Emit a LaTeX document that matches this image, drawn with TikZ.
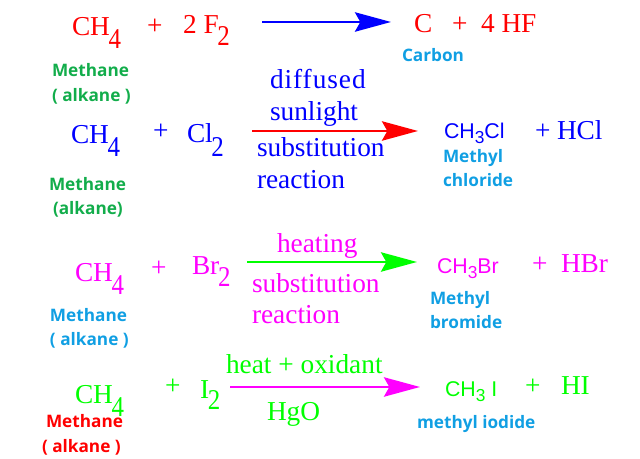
\documentclass[tikz,border=0pt]{standalone}
\usepackage{fontspec}
\setmainfont{Liberation Serif}
\newfontfamily\lblfont{Open Sans}[BoldFont={Open Sans Bold}]
\newfontfamily\formfont{Liberation Sans}
\usetikzlibrary{arrows.meta}
\definecolor{lblgreen}{HTML}{12AD4B}
\definecolor{lblblue}{HTML}{109FE3}
\definecolor{pureRed}{RGB}{255,0,0}
\definecolor{pureBlue}{RGB}{0,0,255}
\definecolor{pureGreen}{RGB}{0,255,0}
\definecolor{pureMagenta}{RGB}{255,0,255}
\newcommand{\bigsub}[2]{\kern-1pt\raisebox{#1pt}{\scalebox{.87}[1]{\fontsize{21.5}{21.5}\selectfont #2}}}
\newcommand{\smsub}[1]{\raisebox{-3.2pt}{\fontsize{13}{13}\selectfont #1}}
\tikzset{
  x=0.75pt,y=-0.75pt,
  every node/.style={inner sep=0pt,outer sep=0pt,anchor=base west},
  chem/.style={yshift=-.75pt,font=\fontsize{20.5}{20.5}\selectfont},
  cond/.style={yshift=-.75pt,font=\fontsize{20.5}{20.5}\selectfont},
  plus/.style={font=\fontsize{20.5}{20.5}\selectfont},
  sans/.style={yshift=-.75pt,font=\formfont\fontsize{16}{16}\selectfont},
  lbl/.style={yshift=-.75pt,font=\lblfont\bfseries\fontsize{12.9}{12.9}\selectfont},
  arr/.style={line width=2pt,-{Stealth[length=27pt,width=14.5pt,inset=4pt]}}
}
\begin{document}
\begin{tikzpicture}
\useasboundingbox (0,0) rectangle (640,459);
% Row 1
\begin{scope}[pureRed]
\node[chem] (ch1) at (72,35) {CH\bigsub{-9.75}{4}};
\node[plus] (p1) at (147,35) {+};
\node[chem] (f2) at (183,33) {2 F\bigsub{-8.8}{2}};
\node[chem] (c) at (414,32) {C};
\node[plus] (p1b) at (452,33) {+};
\node[chem] (hf) at (481,32) {4 HF};
\end{scope}
\coordinate (a1s) at (262,22); \coordinate (a1e) at (391,22);
\draw[arr,pureBlue] (a1s) -- (a1e);
\node[lbl,lblgreen] (m1) at (52,76) {Methane};
\node[lbl,lblgreen] (k1) at (52,101) {( alkane )};
\node[lbl,lblblue] (cb) at (402,61) {Carbon};
% Row 2
\begin{scope}[pureBlue]
\node[chem] (ch2) at (71,143) {CH\bigsub{-9.75}{4}};
\node[plus] (p2) at (153,140) {+};
\node[chem] (cl2) at (187,142) {Cl\bigsub{-10.25}{2}};
\node[cond] (t21) at (270,88) {\addfontfeature{LetterSpace=3.5}diffused};
\node[cond] (t22) at (270,120) {sunlight};
\node[cond] (t23) at (257,156) {substitution};
\node[cond] (t24) at (257,188) {reaction};
\node[sans] (ccl) at (444,138) {CH\smsub{3}Cl};
\node[plus] (p2b) at (535,140) {+};
\node[chem] (hcl) at (557,139) {HCl};
\end{scope}
\coordinate (a2s) at (252,131); \coordinate (a2e) at (418,131);
\draw[arr,pureRed] (a2s) -- (a2e);
\node[lbl,lblgreen] (m2) at (49,190) {Methane};
\node[lbl,lblgreen] (k2) at (53,214) {(alkane)};
\node[lbl,lblblue] (mc1) at (443,162) {Methyl};
\node[lbl,lblblue] (mc2) at (443,186) {chloride};
% Row 3
\begin{scope}[pureMagenta]
\node[chem] (ch3) at (75,281) {CH\bigsub{-9.75}{4}};
\node[plus] (p3) at (151,277) {+};
\node[chem] (br2) at (192,274) {Br\bigsub{-8.5}{2}};
\node[cond] (t31) at (277,252) {heating};
\node[cond] (t32) at (252,292) {substitution};
\node[cond] (t33) at (252,323) {reaction};
\node[sans] (cbr) at (437,273) {CH\smsub{3}Br};
\node[plus] (p3b) at (532,273) {+};
\node[chem] (hbr) at (561,272) {HBr};
\end{scope}
\coordinate (a3s) at (247,262); \coordinate (a3e) at (417,262);
\draw[arr,pureGreen] (a3s) -- (a3e);
\node[lbl,lblblue] (m3) at (50,321) {Methane};
\node[lbl,lblblue] (k3) at (50,345) {( alkane )};
\node[lbl,lblblue] (mb1) at (430,304) {Methyl};
\node[lbl,lblblue] (mb2) at (430,328) {bromide};
% Row 4
\begin{scope}[pureGreen]
\node[chem] (ch4) at (75,403) {CH\bigsub{-9.75}{4}};
\node[plus] (p4) at (165,395) {+};
\node[chem] (i2) at (200,398) {I\bigsub{-8}{2}};
\node[cond] (t41) at (226,373) {heat + oxidant};
\node[cond] (t42) at (267,420) {HgO};
\node[sans] (ci) at (445,396) {CH\smsub{3} I};
\node[plus] (p4b) at (525,395) {+};
\node[chem] (hi) at (561,394) {HI};
\end{scope}
\coordinate (a4s) at (230,387); \coordinate (a4e) at (420,387);
\draw[arr,pureMagenta] (a4s) -- (a4e);
\node[lbl,pureRed] (m4) at (46,427) {Methane};
\node[lbl,pureRed] (k4) at (42,452) {( alkane )};
\node[lbl,lblblue] (mi) at (417,428) {methyl iodide};
\end{tikzpicture}
\end{document}
